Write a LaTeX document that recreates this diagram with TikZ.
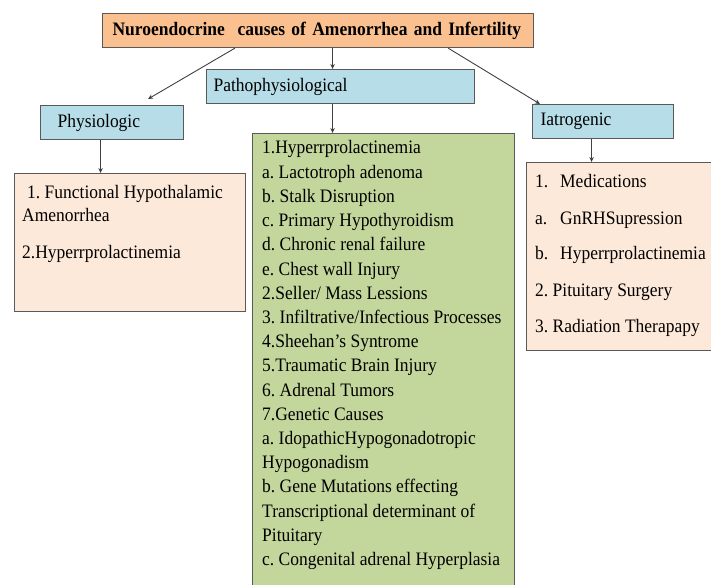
\documentclass[tikz,border=0pt]{standalone}
\usepackage{fontspec}
\setmainfont{Liberation Serif}[FakeStretch=0.92]
\usetikzlibrary{arrows.meta,calc}
\frenchspacing

\definecolor{titlefill}{HTML}{FAC090}
\definecolor{headfill}{HTML}{B7DEE8}
\definecolor{listfill}{HTML}{C3D69B}
\definecolor{peachfill}{HTML}{FDE9D9}
\definecolor{bordergray}{HTML}{595959}
\definecolor{wiregray}{HTML}{404040}

\begin{document}
\begin{tikzpicture}[x=1pt, y=-1pt, >={Stealth[length=5pt,width=4.5pt]},
    box/.style={draw=bordergray, line width=1.1pt, inner sep=0pt, anchor=north west},
    headbox/.style={box, fill=headfill, minimum height=34pt, align=left, font=\fontsize{19}{23}\selectfont},
    txt/.style={font=\fontsize{19}{23}\selectfont, inner sep=0pt, anchor=base west},
    link/.style={->, draw=wiregray, line width=0.9pt}]
    \clip (0,0) rectangle (711,585);

    % Title box
    \node[box, fill=titlefill, minimum height=34pt, text width=411pt, inner xsep=10pt,
          align=left, font=\bfseries\fontsize{19}{23}\selectfont] (title) at (102,13)
          {Nuroendocrine~~causes of Amenorrhea and Infertility};

    % Three heads
    \node[headbox, text width=254pt, inner xsep=7pt] (patho) at (206,69) {Pathophysiological};
    \node[headbox, text width=109pt, inner xsep=17pt] (physio) at (40,105) {Physiologic};
    \node[headbox, text width=125pt, inner xsep=8pt] (iatro) at (532,104) {Iatrogenic};

    % List boxes
    \node[box, fill=peachfill, minimum width=231pt, minimum height=138pt] (physlist) at (14,173) {};
    \node[box, fill=listfill, minimum width=262pt, minimum height=470pt] (pathlist) at (252,133) {};
    \node[box, fill=peachfill, minimum width=200pt, minimum height=188pt] (iatrolist) at (526,162) {};

    % Physiologic causes
    \node[txt] (f1) at (27,199) {1. Functional Hypothalamic};
    \node[txt] (f2) at (22,222) {Amenorrhea};
    \node[txt] (f3) at (22,258) {2.Hyperrprolactinemia};

    % Pathophysiological causes
    \foreach \t [count=\i] in {1.Hyperrprolactinemia, a. Lactotroph adenoma,
        b. Stalk Disruption, c. Primary Hypothyroidism, d. Chronic renal failure,
        e. Chest wall Injury, 2.Seller/ Mass Lessions,
        3. Infiltrative/Infectious Processes, 4.Sheehan’s Syntrome,
        5.Traumatic Brain Injury, 6. Adrenal Tumors, 7.Genetic Causes,
        a. IdopathicHypogonadotropic, Hypogonadism, b. Gene Mutations effecting,
        Transcriptional determinant of, Pituitary, c. Congenital adrenal Hyperplasia}
        \node[txt] (p\i) at (262,{154+24.2*(\i-1)}) {\t};

    % Iatrogenic causes
    \node[txt] (m1) at (535,188) {1.};
    \node[txt] (m1t) at (560,188) {Medications};
    \node[txt] (m2) at (535,224) {a.};
    \node[txt] (m2t) at (560,224) {GnRHSupression};
    \node[txt] (m3) at (535,259) {b.};
    \node[txt] (m3t) at (560,259) {Hyperrprolactinemia};
    \node[txt] (m4) at (535,296) {2. Pituitary Surgery};
    \node[txt] (m5) at (535,332) {3. Radiation Therapapy};

    % Arrows
    \draw[link] ([xshift=133pt]title.south west) -- ([xshift=36pt,yshift=6pt]physio.north);
    \draw[link] ([xshift=14.5pt]title.south) -- ([xshift=14.5pt]title.south |- patho.north);
    \draw[link] ([xshift=-86pt]title.south east) -- ([xshift=8pt]iatro.north west);
    \draw[link] ([xshift=-8pt]patho.south) -- ([xshift=-8pt]patho.south |- pathlist.north);
    \draw[link] ([xshift=-11.5pt]physio.south) -- ([xshift=-11.5pt]physio.south |- physlist.north);
    \draw[link] ([xshift=-11.5pt]iatro.south) -- ([xshift=-11.5pt]iatro.south |- iatrolist.north);
\end{tikzpicture}
\end{document}
